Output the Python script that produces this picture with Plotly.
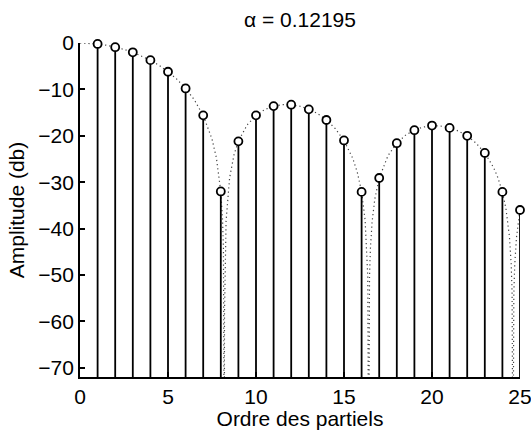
import plotly.graph_objects as go

# Harmonic amplitudes (dB)
partials = list(range(1, 26))
amplitude_db = [-0.2, -0.9, -2.0, -3.7, -6.2, -9.8, -15.6, -32.0, -21.2, -15.6,
                -13.6, -13.3, -14.3, -16.6, -21.0, -32.1, -29.1, -21.6, -18.8, -17.8,
                -18.3, -20.0, -23.7, -32.1, -36.0]

# Dotted spectral envelope (dB)
env_x = [0, 0.5, 1, 1.5, 2, 2.5, 3, 3.5, 4, 4.5, 5, 5.5, 6, 6.5, 7, 7.5, 7.75, 8, 8.1, 8.15,
         8.19, 8.2, 8.21, 8.25, 8.3, 8.5, 8.75, 9, 9.5, 10, 10.5, 11, 11.5, 12, 12.5, 13,
         13.5, 14, 14.5, 15, 15.5, 15.75, 16, 16.2, 16.3, 16.35, 16.4, 16.45, 16.5, 16.6,
         16.75, 17, 17.5, 18, 18.5, 19, 19.5, 20, 20.5, 21, 21.5, 22, 22.5, 23, 23.5, 23.75,
         24, 24.2, 24.4, 24.5, 24.55, 24.6, 24.65, 24.7, 24.8, 25]
env_db = [0.0, -0.05, -0.21, -0.48, -0.87, -1.37, -2.00, -2.78, -3.72, -4.83, -6.17, -7.79,
          -9.77, -12.27, -15.63, -20.70, -24.76, -32.05, -38.16, -44.23, -58.17, -97.5,
          -58.38, -44.37, -38.39, -29.07, -24.10, -21.16, -17.64, -15.59, -14.34, -13.62,
          -13.30, -13.31, -13.63, -14.26, -15.22, -16.58, -18.43, -21.02, -24.89, -27.77,
          -32.07, -38.17, -44.46, -50.25, -97.6, -50.38, -44.37, -38.40, -33.63, -29.13,
          -24.29, -21.58, -19.86, -18.76, -18.12, -17.85, -17.90, -18.27, -18.97, -20.04,
          -21.56, -23.70, -26.85, -29.08, -32.11, -35.66, -41.72, -47.76, -53.77, -97.6,
          -53.91, -47.88, -41.89, -35.96]

x_ticks = [0, 5, 10, 15, 20, 25]
x_ticklabels = ["0", "5", "10", "15", "20", "25"]
y_ticks = [0, -10, -20, -30, -40, -50, -60, -70]
y_ticklabels = ["0", "\u221210", "\u221220", "\u221230", "\u221240", "\u221250", "\u221260", "\u221270"]
y_min, y_max = -72, 0
x_min, x_max = 0, 25

title_text = "\u03b1 = 0.12195"
x_title = "Ordre des partiels"
y_title = "Amplitude (db)"

FONT = "Liberation Sans, Arial, Helvetica, sans-serif"
FS = 21

# stems built from data (value down to the axis floor)
stem_x, stem_y = [], []
for n, v in zip(partials, amplitude_db):
    stem_x += [n, n, None]
    stem_y += [v, y_min, None]

fig = go.Figure()
fig.add_trace(go.Scatter(x=env_x, y=env_db, mode="lines",
                         line=dict(color="#444444", width=1.2, dash="1.2px,3px"),
                         hoverinfo="skip", showlegend=False))
fig.add_trace(go.Scatter(x=stem_x, y=stem_y, mode="lines",
                         line=dict(color="black", width=1.8),
                         hoverinfo="skip", showlegend=False))
fig.add_trace(go.Scatter(x=partials, y=amplitude_db, mode="markers",
                         marker=dict(symbol="circle", size=8, color="white",
                                     line=dict(color="black", width=1.8)),
                         cliponaxis=False, showlegend=False))

fig.update_layout(
    template="none",
    width=531, height=430,
    margin=dict(l=80, r=11, t=43, b=53, autoexpand=False),
    paper_bgcolor="white", plot_bgcolor="white",
    font=dict(family=FONT, size=FS, color="black"),
    title=dict(text=title_text, x=300 / 531, xanchor="center", y=1 - 20 / 430, yanchor="middle",
               font=dict(family=FONT, size=FS, color="black")),
    showlegend=False,
)
fig.update_xaxes(range=[x_min, x_max], tickvals=x_ticks, ticktext=x_ticklabels,
                 ticks="inside", ticklen=5, tickwidth=1.5, tickcolor="black",
                 ticklabeloverflow="allow",
                 showline=True, linecolor="black", linewidth=1.8, mirror=False,
                 showgrid=False, zeroline=False, automargin=False,
                 title=dict(text=x_title, standoff=0, font=dict(size=FS)),
                 tickfont=dict(size=FS))
fig.update_yaxes(range=[y_min, y_max], tickvals=y_ticks, ticktext=y_ticklabels,
                 ticks="inside", ticklen=5, tickwidth=1.5, tickcolor="black",
                 ticklabeloverflow="allow",
                 showline=True, linecolor="black", linewidth=1.8, mirror=False,
                 showgrid=False, zeroline=False, automargin=False,
                 title=dict(text=y_title, standoff=8, font=dict(size=FS)),
                 tickfont=dict(size=FS))

fig.write_html("out.html", config={"displayModeBar": False},
               post_script="document.body.style.margin='0';document.body.style.overflow='hidden';")
